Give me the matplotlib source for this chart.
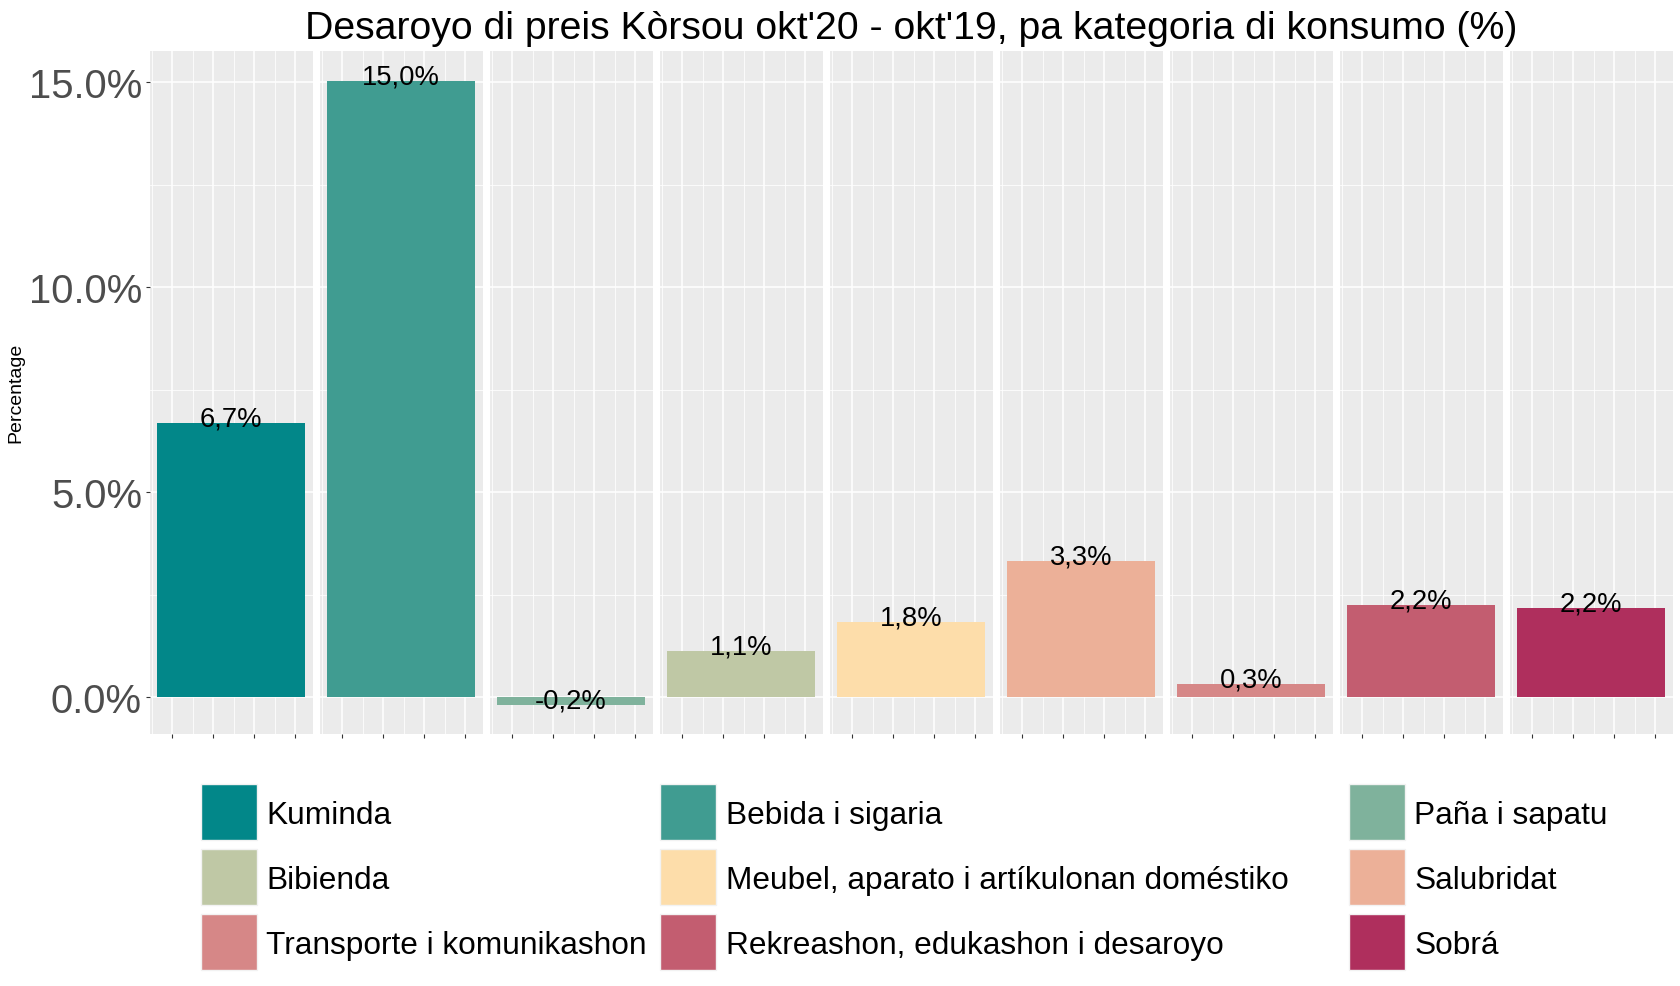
import matplotlib
matplotlib.use("Agg")
import matplotlib.pyplot as plt
from matplotlib.patches import Rectangle

plt.rcParams["font.family"] = ["Liberation Sans", "DejaVu Sans"]

categories = [
    "Kuminda", "Bebida i sigaria", "Paña i sapatu",
    "Bibienda", "Meubel, aparato i artíkulonan doméstiko", "Salubridat",
    "Transporte i komunikashon", "Rekreashon, edukashon i desaroyo", "Sobrá",
]
values = [6.69, 15.02, -0.18, 1.12, 1.83, 3.32, 0.33, 2.24, 2.19]
labels = ["6,7%", "15,0%", "-0,2%", "1,1%", "1,8%", "3,3%", "0,3%", "2,2%", "2,2%"]
colors = [
    "#028789", "#409C91", "#7FB29C",
    "#BFC8A5", "#FDDDAA", "#ECB098",
    "#D68787", "#C35D70", "#AF2F5D",
]
y_ticks = [0, 5, 10, 15]
y_ticklabels = ["0.0%", "5.0%", "10.0%", "15.0%"]

W, H = 1680, 987
fig = plt.figure(figsize=(W / 100, H / 100), dpi=100)

# panel geometry in pixels
p_left, p_w, p_gap = 150.3, 162.7, 7.3
p_top, p_bot = 51.7, 735.0

bar_x, bar_w = 2.43, 3.61
for i, (val, lab, col) in enumerate(zip(values, labels, colors)):
    x0 = p_left + i * (p_w + p_gap)
    ax = fig.add_axes([x0 / W, 1 - p_bot / H, p_w / W, (p_bot - p_top) / H])
    ax.set_facecolor("#EBEBEB")
    ax.set_xlim(0.463, 4.432)
    ax.set_ylim(-0.895, 15.77)
    ax.bar(bar_x, val, width=bar_w, color=col, zorder=3)
    ax.annotate(lab, (bar_x, val), xytext=(0, -2.5), textcoords="offset pixels",
                ha="center", va="baseline", fontsize=19.7, zorder=4)
    ax.set_xticks([1, 2, 3, 4])
    ax.set_xticks([0.5, 1.5, 2.5, 3.5], minor=True)
    ax.set_xticklabels([])
    ax.set_yticks(y_ticks)
    ax.set_yticks([2.5, 7.5, 12.5], minor=True)
    ax.grid(which="major", color="white", linewidth=1.1, zorder=1)
    ax.grid(which="minor", color="white", linewidth=0.55, zorder=1)
    ax.set_axisbelow(True)
    for s in ax.spines.values():
        s.set_visible(False)
    ax.tick_params(axis="x", which="major", length=3, width=0.8, color="#333333")
    ax.tick_params(which="minor", length=0)
    if i == 0:
        ax.set_yticklabels(y_ticklabels, fontsize=28.8, color="#4D4D4D")
        ax.tick_params(axis="y", which="major", length=3, width=0.8,
                       color="#333333", pad=3)
    else:
        ax.set_yticklabels([])
        ax.tick_params(axis="y", which="major", length=0)

fig.text(911 / W, 1 - 39 / H, "Desaroyo di preis Kòrsou okt'20 - okt'19, pa kategoria di konsumo (%)",
         ha="center", va="baseline", fontsize=28.3)
fig.text(16 / W, 1 - 393 / H, "Percentage", rotation=90, ha="center", va="center",
         fontsize=14)

# legend drawn in pixel space
lg = fig.add_axes([0, 0, 1, 1])
lg.set_xlim(0, W)
lg.set_ylim(H, 0)
lg.axis("off")
key_x = [201, 660, 1349]
row_y = [785, 850, 915]
key = 55.5
for k, (name, col) in enumerate(zip(categories, colors)):
    r, c = divmod(k, 3)
    lg.add_patch(Rectangle((key_x[c], row_y[r]), key, key, facecolor=col,
                           edgecolor="#F2F2F2", linewidth=1))
    lg.text(key_x[c] + key + 10, row_y[r] + key / 2 + 11.5, name, ha="left",
            va="baseline", fontsize=22.8)

plt.savefig("out.png", dpi=100)
plt.close()
